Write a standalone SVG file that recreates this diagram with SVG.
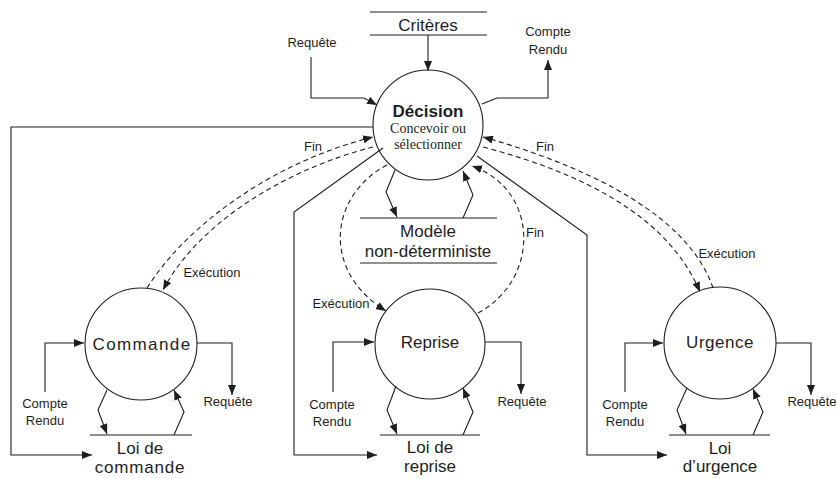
<svg xmlns="http://www.w3.org/2000/svg" width="837" height="479" viewBox="0 0 837 479">
  <style>
    .ln { fill: none; stroke: #1e1e1e; stroke-width: 1.1; }
    .dash { stroke-dasharray: 5 3.5; }
    .proc { fill: #fff; stroke: #1e1e1e; stroke-width: 1.1; }
    text { font-family: "Liberation Sans", Arial, sans-serif; fill: #1e1e1e; text-anchor: middle; }
    .name { font-size: 17px; }
    .wide { letter-spacing: 1.4px; }
    .lbl { font-size: 13px; }
    .bold { font-weight: bold; }
    .serif { font-family: "Liberation Serif", "Times New Roman", serif; font-size: 14px; }
  </style>
  <defs>
    <marker id="ah" markerWidth="11" markerHeight="8" refX="10" refY="4" orient="auto" markerUnits="userSpaceOnUse">
      <path d="M0,0 L10,4 L0,8 z" fill="#1e1e1e"/>
    </marker>
  </defs>
  <rect width="837" height="479" fill="#fff"/>

  <!-- processes -->
  <g id="decision">
    <circle class="proc" cx="428" cy="125" r="55"/>
    <text class="name bold" x="428" y="117">Décision</text>
    <text class="serif" x="428" y="133">Concevoir ou</text>
    <text class="serif" x="428" y="149">sélectionner</text>
  </g>
  <g id="commande">
    <circle class="proc" cx="141" cy="344" r="56"/>
    <text class="name wide" x="142" y="350">Commande</text>
  </g>
  <g id="reprise">
    <circle class="proc" cx="430" cy="344" r="55"/>
    <text class="name" x="430" y="348">Reprise</text>
  </g>
  <g id="urgence">
    <circle class="proc" cx="720" cy="343" r="56"/>
    <text class="name" x="720" y="348" style="letter-spacing:0.5px">Urgence</text>
  </g>

  <!-- data stores -->
  <g id="criteres">
    <line class="ln" x1="370" y1="12" x2="487" y2="12"/>
    <line class="ln" x1="370" y1="35" x2="487" y2="35"/>
    <text class="name" x="428" y="31">Critères</text>
  </g>
  <g id="modele">
    <line class="ln" x1="360" y1="218" x2="497" y2="218"/>
    <line class="ln" x1="360" y1="263" x2="497" y2="263"/>
    <text class="name" x="428" y="237">Modèle</text>
    <text class="name" x="428" y="257">non-déterministe</text>
  </g>
  <g id="loi-commande">
    <line class="ln" x1="90" y1="435" x2="192" y2="435"/>
    <text class="name" x="140" y="454">Loi de</text>
    <text class="name" x="140" y="473" style="letter-spacing:0.8px">commande</text>
  </g>
  <g id="loi-reprise">
    <line class="ln" x1="380" y1="435" x2="480" y2="435"/>
    <text class="name" x="430" y="453">Loi de</text>
    <text class="name" x="430" y="472">reprise</text>
  </g>
  <g id="loi-urgence">
    <line class="ln" x1="669" y1="435" x2="770" y2="435"/>
    <text class="name" x="720" y="454">Loi</text>
    <text class="name" x="720" y="472">d’urgence</text>
  </g>

  <!-- flows -->
  <g id="connectors">
    <!-- decision inputs / outputs -->
    <path class="ln" d="M428,35 V71" marker-end="url(#ah)"/>
    <path class="ln" d="M311,57 V98 H364 L377,105" marker-end="url(#ah)"/>
    <path class="ln" d="M482,104 L497,98 H548 V60" marker-end="url(#ah)"/>
    <path class="ln" d="M395,170 L386,192 L397,217" marker-end="url(#ah)"/>
    <path class="ln" d="M463,218 L473,195 L463,171" marker-end="url(#ah)"/>

    <!-- decision to the three laws -->
    <path class="ln" d="M373,127 H11 V455 H92" marker-end="url(#ah)"/>
    <path class="ln" d="M383,148 L294,212 V455 H377" marker-end="url(#ah)"/>
    <path class="ln" d="M477,156 L587,235 V455 H667" marker-end="url(#ah)"/>

    <!-- execution / end (dashed) -->
    <path class="ln dash" d="M147,288 C190,220 280,160 373,137" marker-end="url(#ah)"/>
    <path class="ln dash" d="M373,147 C290,168 200,220 163,290" marker-end="url(#ah)"/>
    <path class="ln dash" d="M387,165 C330,195 320,270 386,311" marker-end="url(#ah)"/>
    <path class="ln dash" d="M478,313 C540,280 540,190 472,166" marker-end="url(#ah)"/>
    <path class="ln dash" d="M713,288 C690,220 600,170 483,137" marker-end="url(#ah)"/>
    <path class="ln dash" d="M483,147 C590,175 670,220 700,292" marker-end="url(#ah)"/>

    <!-- commande -->
    <path class="ln" d="M45,392 V343 H84" marker-end="url(#ah)"/>
    <path class="ln" d="M197,343 H232 V395" marker-end="url(#ah)"/>
    <path class="ln" d="M107,390 L98,410 L107,434" marker-end="url(#ah)"/>
    <path class="ln" d="M174,435 L184,412 L174,390" marker-end="url(#ah)"/>

    <!-- reprise -->
    <path class="ln" d="M333,392 V342 H374" marker-end="url(#ah)"/>
    <path class="ln" d="M485,342 H521 V394" marker-end="url(#ah)"/>
    <path class="ln" d="M396,386 L387,410 L397,434" marker-end="url(#ah)"/>
    <path class="ln" d="M463,435 L473,412 L463,388" marker-end="url(#ah)"/>

    <!-- urgence -->
    <path class="ln" d="M625,392 V343 H663" marker-end="url(#ah)"/>
    <path class="ln" d="M776,343 H811 V395" marker-end="url(#ah)"/>
    <path class="ln" d="M687,388 L677,410 L686,434" marker-end="url(#ah)"/>
    <path class="ln" d="M753,435 L763,412 L753,389" marker-end="url(#ah)"/>
  </g>

  <!-- flow labels -->
  <g id="labels">
    <text class="lbl" x="312" y="47">Requête</text>
    <text class="lbl" x="548" y="36">Compte</text>
    <text class="lbl" x="548" y="54">Rendu</text>
    <text class="lbl" x="313" y="151">Fin</text>
    <text class="lbl" x="545" y="151">Fin</text>
    <text class="lbl" x="535" y="237">Fin</text>
    <text class="lbl" x="212" y="277">Exécution</text>
    <text class="lbl" x="341" y="308">Exécution</text>
    <text class="lbl" x="727" y="258">Exécution</text>

    <text class="lbl" x="45" y="408">Compte</text>
    <text class="lbl" x="45" y="425">Rendu</text>
    <text class="lbl" x="228" y="406">Requête</text>

    <text class="lbl" x="332" y="409">Compte</text>
    <text class="lbl" x="332" y="426">Rendu</text>
    <text class="lbl" x="522" y="406">Requête</text>

    <text class="lbl" x="625" y="409">Compte</text>
    <text class="lbl" x="625" y="426">Rendu</text>
    <text class="lbl" x="812" y="406">Requête</text>
  </g>
</svg>
